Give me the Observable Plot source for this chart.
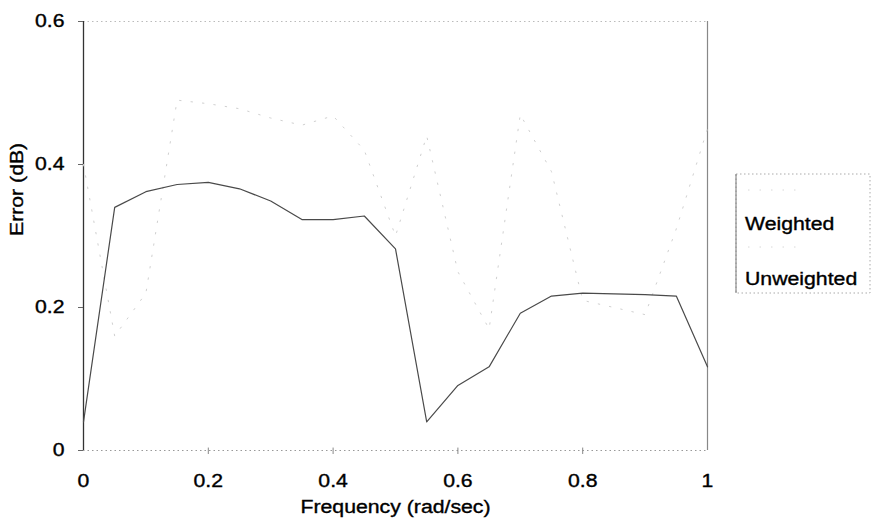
<!DOCTYPE html>
<html><head><meta charset="utf-8">
<script src="https://cdn.jsdelivr.net/npm/d3@7"></script>
<script src="https://cdn.jsdelivr.net/npm/@observablehq/plot@0.6"></script>
<style>html,body{margin:0;padding:0;background:#fff;} svg{display:block}</style>
</head><body><div id="chart"></div>
<script>
const frequency  = [0, 0.05, 0.1, 0.15, 0.2, 0.25, 0.3, 0.35, 0.4, 0.45, 0.5, 0.55, 0.6, 0.65, 0.7, 0.75, 0.8, 0.85, 0.9, 0.95, 1.0];
const weighted   = [0.04, 0.34, 0.362, 0.372, 0.375, 0.366, 0.349, 0.323, 0.323, 0.328, 0.282, 0.04, 0.091, 0.117, 0.192, 0.216, 0.22, 0.219, 0.218, 0.216, 0.117];
const unweighted = [0.40, 0.16, 0.22, 0.49, 0.485, 0.478, 0.465, 0.455, 0.468, 0.42, 0.30, 0.44, 0.25, 0.17, 0.47, 0.39, 0.21, 0.20, 0.19, 0.31, 0.45];
const seriesNames = ["Weighted", "Unweighted"];
const xTicks = [0, 0.2, 0.4, 0.6, 0.8, 1];
const yTicks = [0, 0.2, 0.4, 0.6];
const xLabel = "Frequency (rad/sec)";
const yLabel = "Error (dB)";

const rowsW = frequency.map((f, i) => ({f, v: weighted[i]}));
const rowsU = frequency.map((f, i) => ({f, v: unweighted[i]}));

const font = "'Liberation Sans', Arial, sans-serif";
const plot = Plot.plot({
  width: 878, height: 523,
  marginLeft: 83, marginRight: 171, marginTop: 21, marginBottom: 73,
  style: {fontFamily: font, fontSize: "18px", color: "#000", background: "#fff"},
  x: {domain: [0, 1]},
  y: {domain: [0, 0.6]},
  marks: [
    Plot.ruleY([0.6], {stroke: "#bbb", strokeDasharray: "1.5,3"}),
    Plot.ruleY([0], {stroke: "#999", strokeDasharray: "1.5,3"}),
    Plot.ruleX([1], {stroke: "#888", strokeWidth: 1.2}),
    Plot.ruleX([0], {stroke: "#333", strokeWidth: 1.3}),
    Plot.ruleX(xTicks.slice(1, -1), {y1: 0, y2: 0.009, dy: 4, stroke: "#888"}),
    Plot.axisY({ticks: yTicks, tickSize: 5, tickPadding: 14, tickFormat: d => String(d), label: null, stroke: "#666"}),
    Plot.axisX({ticks: xTicks, tickSize: 0, tickPadding: 24, tickFormat: d => String(d), label: null}),
    Plot.text([xLabel], {frameAnchor: "bottom", dy: 62, fontSize: 18, fill: "#000"}),
    Plot.text([yLabel], {frameAnchor: "left", rotate: -90, dx: -66, fontSize: 18, fill: "#000"}),
    Plot.lineY(rowsU, {x: "f", y: "v", stroke: "#d0d0d0", strokeWidth: 1, strokeDasharray: "1.5,10"}),
    Plot.lineY(rowsW, {x: "f", y: "v", stroke: "#4a4a4a", strokeWidth: 1.2})
  ]
});
document.getElementById("chart").appendChild(plot);

// legend
const svg = d3.select(plot);
const lg = svg.append("g").attr("font-family", font).attr("font-size", 18).attr("text-anchor", "start");
lg.append("rect").attr("x", 736).attr("y", 174).attr("width", 134).attr("height", 119)
  .attr("fill", "none").attr("stroke", "#aaa").attr("stroke-dasharray", "1.5,2.5");
lg.append("line").attr("x1", 736).attr("x2", 736).attr("y1", 174).attr("y2", 293).attr("stroke", "#777");
const legendColors = ["#d8d8d8", "#d8d8d8"];
seriesNames.forEach((name, i) => {
  const yy = 190 + i * 57;
  lg.append("line").attr("x1", 748).attr("x2", 800).attr("y1", yy).attr("y2", yy)
    .attr("stroke", legendColors[i]).attr("stroke-dasharray", "1.5,10");
  lg.append("text").attr("x", 745).attr("y", 230 + i * 55).attr("fill", "#000").text(name);
});

// widen and slightly thicken glyphs to match the scanned text
svg.selectAll("text").each(function() {
  const len = this.getComputedTextLength();
  if (len > 0) {
    this.setAttribute("textLength", (len * 1.18).toFixed(1));
    this.setAttribute("lengthAdjust", "spacingAndGlyphs");
  }
  this.setAttribute("stroke", "#000");
  this.setAttribute("stroke-width", "0.35");
});
</script>
</body></html>
